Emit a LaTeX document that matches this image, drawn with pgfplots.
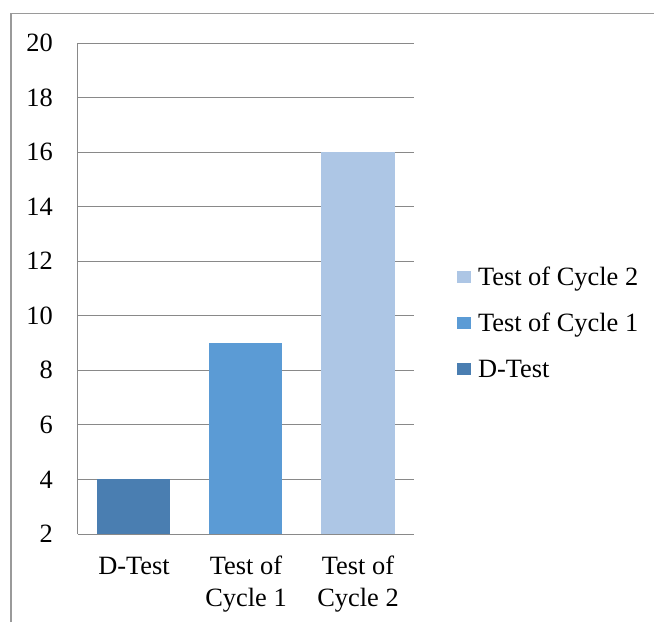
\documentclass[border=0pt]{standalone}
\usepackage{fontspec}
\setmainfont{Liberation Serif}
\usepackage{pgfplots}
\pgfplotsset{compat=1.18}
\definecolor{cD}{HTML}{4A7EB1}
\definecolor{cA}{HTML}{5B9BD5}
\definecolor{cB}{HTML}{ADC6E5}
\definecolor{gridc}{HTML}{898989}
\definecolor{framec}{HTML}{9A9A9A}
\begin{document}
\begin{tikzpicture}
\useasboundingbox (0,0) rectangle (490.5pt,-466.5pt);
\draw[framec, line width=0.9pt] (8.25pt,-466.5pt) -- (8.25pt,-10pt) -- (490.5pt,-10pt);
\begin{axis}[
  at={(58.5pt,-400.5pt)}, anchor=south west,
  scale only axis, width=252pt, height=368.25pt,
  xmin=-0.5, xmax=2.5, ymin=2, ymax=20,
  ytick={2,4,...,20},
  xtick={0,1,2},
  xticklabels={{D-Test\vphantom{f}},{Test of\\Cycle 1},{Test of\\Cycle 2}},
  axis lines*=left,
  axis line style={gridc, line width=0.75pt},
  ymajorgrids, grid style={gridc, line width=0.75pt},
  major tick length=0pt,
  tick label style={font=\fontsize{19.8pt}{23.8pt}\selectfont},
  /pgf/number format/assume math mode=true,
  yticklabel style={anchor=east, inner sep=0pt, xshift=-18.75pt},
  xticklabel style={anchor=north, align=center, inner sep=0pt, yshift=-16.5pt},
  ybar, bar width=54.75pt, bar shift=0pt,
  reverse legend,
  legend cell align=left,
  legend style={at={(1.128,0.5438)}, anchor=north west, draw=none, fill=none,
    inner sep=0pt, outer sep=0pt, row sep=16.5pt,
    cells={anchor=base west},
    nodes={scale=1, inner sep=0pt, text height=13.5pt, text depth=4.5pt, font=\fontsize{19.8pt}{23.8pt}\selectfont}},
  legend image code/.code={\fill[#1] (0pt,1.2pt) rectangle (10.5pt,10.7pt); \path (15.75pt,0pt);},
]
\addplot[fill=cD, draw=none] coordinates {(0,4)};
\addplot[fill=cA, draw=none] coordinates {(1,9)};
\addplot[fill=cB, draw=none] coordinates {(2,16)};
\legend{D-Test,Test of Cycle 1,Test of Cycle 2}
\end{axis}
\end{tikzpicture}
\end{document}
